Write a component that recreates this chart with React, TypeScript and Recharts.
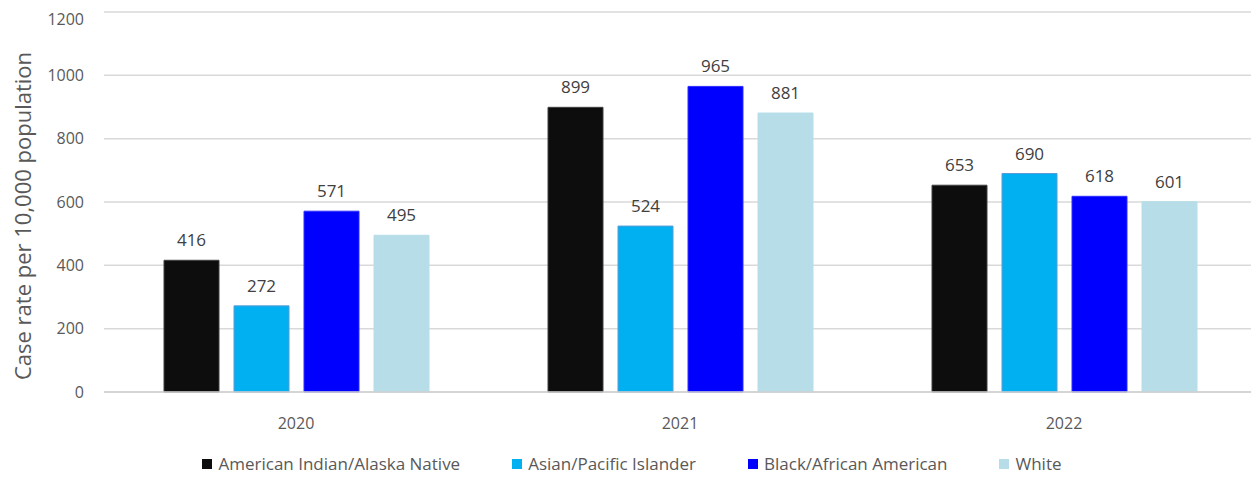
import React from 'react';
import { BarChart, Bar, XAxis, YAxis, CartesianGrid, Legend, LabelList } from 'recharts';

const years = ['2020', '2021', '2022'];
const americanIndian = [416, 899, 653];
const asianPacific = [272, 524, 690];
const blackAfrican = [571, 965, 618];
const white = [495, 881, 601];
const yTicks = [0, 200, 400, 600, 800, 1000, 1200];

const SERIES = [
  { key: 'aian', name: 'American Indian/Alaska Native', fill: '#0d0d0d', stroke: '#404040' },
  { key: 'api', name: 'Asian/Pacific Islander', fill: '#00b0f0', stroke: '#5b9bd5' },
  { key: 'black', name: 'Black/African American', fill: '#0000ff', stroke: '#2f2fff' },
  { key: 'white', name: 'White', fill: '#b7dde8', stroke: '#b7dde8' },
];

const data = years.map((y, i) => ({
  year: y,
  aian: americanIndian[i],
  api: asianPacific[i],
  black: blackAfrican[i],
  white: white[i],
}));

const FONT = '"Open Sans", "Liberation Sans", sans-serif';

const LegendContent = () => (
  <div style={{ display: 'flex', justifyContent: 'center', gap: 52, fontFamily: FONT, fontSize: 17, color: '#595959' }}>
    {SERIES.map(s => (
      <div key={s.key} style={{ display: 'flex', alignItems: 'center', gap: 6 }}>
        <span style={{ width: 10, height: 10, background: s.fill, display: 'inline-block' }} />
        <span>{s.name}</span>
      </div>
    ))}
  </div>
);

export default function App() {
  return (
    <div style={{ width: 1251, height: 473, background: '#fff' }}>
      <BarChart
        width={1251}
        height={473}
        data={data}
        margin={{ top: 4, right: 3, bottom: 0, left: 0 }}
        barCategoryGap={60}
        barGap={15}
      >
        <CartesianGrid vertical={false} stroke="#d9d9d9" strokeWidth={1.5} />
        <XAxis
          dataKey="year"
          tickLine={false}
          axisLine={{ stroke: '#d0d0d0', strokeWidth: 1.5 }}
          tick={{ fill: '#595959', fontSize: 16, fontFamily: FONT }}
          tickMargin={20}
          height={45}
        />
        <YAxis
          domain={[0, 1200]}
          ticks={yTicks}
          width={96}
          tickLine={false}
          axisLine={false}
          tick={{ fill: '#595959', fontSize: 16, fontFamily: FONT }}
          tickMargin={14}
          label={{
            value: 'Case rate per 10,000 population',
            angle: -90,
            position: 'insideLeft',
            dx: 10,
            dy: 14,
            style: { fill: '#595959', fontSize: 22, fontFamily: FONT, textAnchor: 'middle' },
          }}
        />
        <Legend verticalAlign="bottom" height={44} wrapperStyle={{ top: 444 }} content={<LegendContent />} />
        {SERIES.map(s => (
          <Bar key={s.key} dataKey={s.key} name={s.name} fill={s.fill} stroke={s.stroke} strokeWidth={1} barSize={55} isAnimationActive={false}>
            <LabelList dataKey={s.key} position="top" offset={14} style={{ fill: '#404040', fontSize: 17, fontFamily: FONT }} />
          </Bar>
        ))}
      </BarChart>
    </div>
  );
}
